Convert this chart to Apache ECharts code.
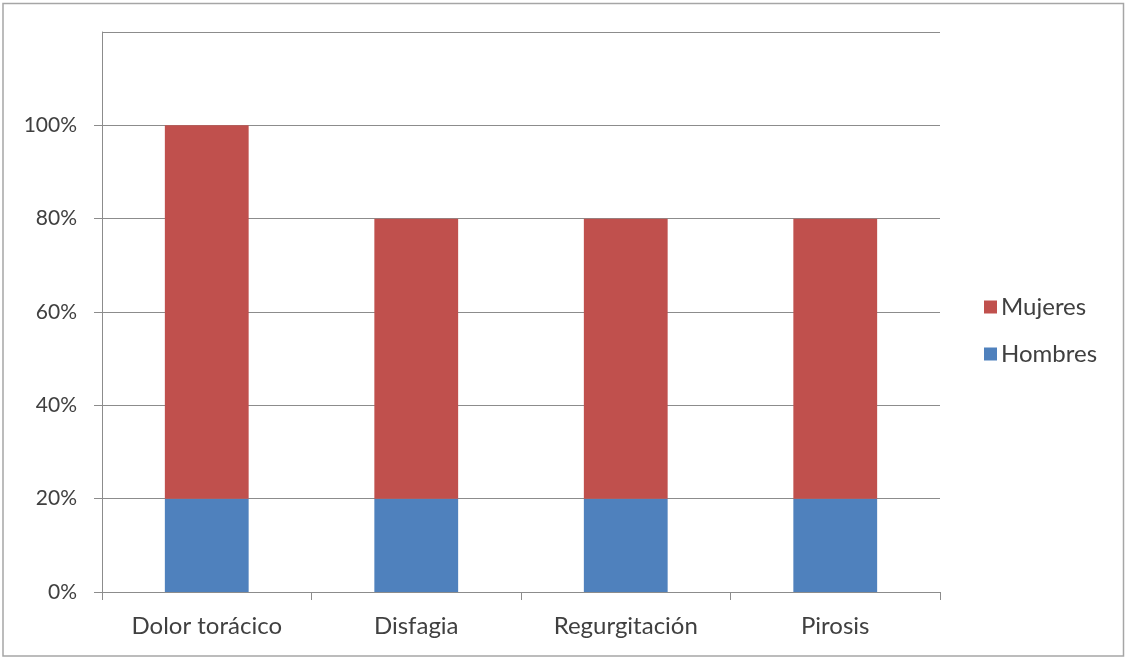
<!DOCTYPE html>
<html>
<head>
<meta charset="utf-8">
<style>
  html, body { margin: 0; padding: 0; background: #ffffff; }
  #chart { width: 1125px; height: 658px; }
</style>
<script src="https://cdn.jsdelivr.net/npm/echarts@6/dist/echarts.min.js"></script>
</head>
<body>
<div id="chart"></div>
<script>
// Symptom categories along the horizontal axis
var categories = ['Dolor torácico', 'Disfagia', 'Regurgitación', 'Pirosis'];
// Share of each symptom by sex (stacked, as fractions)
var hombres = [0.20, 0.20, 0.20, 0.20];
var mujeres = [0.80, 0.60, 0.60, 0.60];

var FONT = 'Lato, "Open Sans", sans-serif';
var TEXT = '#404040';
var LINE = '#8c8c8c';

var chart = echarts.init(document.getElementById('chart'), null, { renderer: 'canvas' });

chart.setOption({
  animation: false,
  backgroundColor: '#ffffff',
  graphic: [{
    type: 'rect',
    shape: { x: 3, y: 3.5, width: 1120.5, height: 652.5 },
    style: { fill: 'none', stroke: '#a6a6a6', lineWidth: 1.5 },
    silent: true
  }],
  grid: { left: 102, right: 185, top: 32, bottom: 66, containLabel: false },
  legend: {
    orient: 'vertical',
    left: 979,
    top: 290,
    itemWidth: 13,
    itemHeight: 13,
    itemGap: 23,
    icon: 'rect',
    data: ['Mujeres', 'Hombres'],
    textStyle: { fontFamily: FONT, fontSize: 24, lineHeight: 24, color: TEXT, padding: [0, 0, 0, -1] }
  },
  xAxis: {
    type: 'category',
    data: categories,
    axisLine: { lineStyle: { color: LINE, width: 1 } },
    axisTick: { show: true, length: 8, alignWithLabel: false, lineStyle: { color: LINE } },
    axisLabel: { fontFamily: FONT, fontSize: 24, color: TEXT, margin: 22 }
  },
  yAxis: {
    type: 'value',
    min: 0,
    max: 1.2,
    interval: 0.2,
    axisLine: { show: true, lineStyle: { color: LINE, width: 1 } },
    axisTick: { show: true, length: 8, lineStyle: { color: LINE } },
    splitLine: { show: true, lineStyle: { color: LINE, width: 1 } },
    axisLabel: {
      fontFamily: FONT, fontSize: 21, color: TEXT, margin: 25,
      showMaxLabel: false,
      formatter: function (v) { return Math.round(v * 100) + '%'; }
    }
  },
  series: [
    {
      name: 'Hombres',
      type: 'bar',
      stack: 'total',
      barWidth: '40%',
      itemStyle: { color: '#4f81bd' },
      data: hombres
    },
    {
      name: 'Mujeres',
      type: 'bar',
      stack: 'total',
      barWidth: '40%',
      itemStyle: { color: '#c0504d' },
      data: mujeres
    }
  ]
});
</script>
</body>
</html>
